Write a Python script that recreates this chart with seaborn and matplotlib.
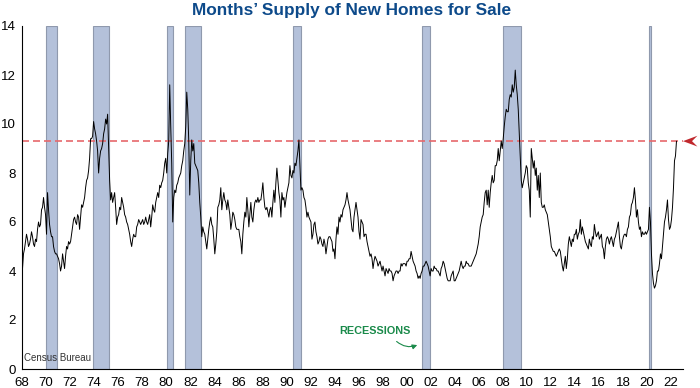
import numpy as np
import pandas as pd
import seaborn as sns
import matplotlib.pyplot as plt
from matplotlib.patches import Polygon

# Monthly months' supply of new homes, Jan 1968 onwards
first_year = 1968
supply_1968_1979 = [
    4.1, 4.7, 4.9, 5.2, 5.5, 5.3, 5.0, 5.1, 5.3, 5.6, 5.4, 5.1,
    5.0, 5.3, 5.2, 5.7, 6.0, 5.8, 5.9, 6.5, 6.6, 7.0, 6.6, 6.3,
    5.5, 7.2, 6.5, 5.9, 5.6, 5.4, 5.4, 5.0, 4.8, 4.7, 4.7, 4.6,
    4.5, 4.3, 4.0, 4.2, 4.7, 4.4, 4.1, 4.6, 5.0, 4.9, 5.2, 5.1,
    5.2, 5.5, 5.8, 6.1, 6.2, 6.0, 5.9, 6.3, 6.2, 5.7, 6.2, 6.7,
    6.6, 6.8, 7.0, 7.4, 7.7, 7.8, 8.1, 8.6, 9.4, 9.4, 9.5, 10.1,
    9.8, 9.6, 9.3, 8.9, 8.0, 8.6, 8.9, 9.0, 9.2, 9.6, 9.8, 10.2,
    10.0, 10.4, 9.0, 7.7, 6.9, 7.2, 6.8, 7.0, 7.2, 6.6, 5.9, 6.2,
    6.3, 6.6, 6.5, 7.0, 6.8, 6.6, 6.3, 6.2, 6.0, 5.9, 5.7, 5.5,
    5.2, 5.0, 5.3, 5.5, 5.4, 5.4, 5.8, 5.9, 6.1, 6.0, 5.9, 6.0,
    6.1, 5.9, 6.0, 6.2, 6.0, 5.9, 6.1, 6.3, 5.8, 6.2, 6.7, 6.5,
    6.4, 6.8, 7.0, 7.2, 7.0, 7.5, 7.4, 7.6, 7.7, 8.0, 8.4, 8.6,
]
supply_1980_1989 = [
    8.0, 8.8, 9.3, 11.6, 9.9, 8.4, 6.0, 7.0, 7.3, 7.2, 7.5, 7.6,
    7.8, 7.9, 8.0, 8.3, 8.5, 8.9, 9.2, 9.9, 11.3, 10.6, 9.3, 7.1,
    8.5, 9.35, 8.9, 9.2, 8.4, 8.3, 8.2, 8.1, 7.6, 6.8, 6.2, 5.4,
    5.8, 5.6, 5.5, 5.2, 4.9, 5.3, 5.7, 6.0, 6.2, 5.9, 5.8, 5.3,
    4.7, 5.1, 5.6, 6.6, 6.7, 6.9, 7.4, 6.5, 6.9, 7.2, 6.9, 6.8,
    6.5, 6.9, 6.6, 6.3, 5.7, 6.0, 6.4, 6.3, 6.1, 5.8, 5.7, 5.7,
    5.7, 5.4, 5.2, 4.7, 5.5, 6.0, 6.4, 6.2, 7.0, 6.5, 5.8, 6.3,
    6.8, 6.2, 6.0, 6.5, 6.8, 6.9, 6.8, 7.0, 6.8, 6.9, 6.9, 7.2,
    7.6, 7.0, 6.6, 6.5, 6.6, 6.4, 6.2, 6.5, 6.6, 6.2, 6.8, 7.3,
    6.8, 7.6, 8.2, 7.7, 7.2, 6.9, 6.2, 7.2, 6.9, 7.0, 6.6, 6.9,
]
supply_1990_1999 = [
    7.2, 7.4, 7.6, 8.3, 7.9, 7.8, 8.1, 8.0, 8.4, 8.3, 8.6, 8.9,
    9.35, 8.3, 7.3, 7.4, 7.3, 7.0, 6.9, 6.6, 6.2, 6.4, 6.2, 6.1,
    6.0, 5.3, 5.5, 5.9, 6.0, 5.6, 5.4, 5.1, 5.2, 5.4, 5.3, 5.1,
    5.0, 5.3, 5.1, 4.7, 5.0, 5.3, 5.4, 5.4, 5.3, 5.2, 4.8, 4.9,
    4.5, 5.3, 5.8, 5.5, 6.2, 6.0, 6.3, 6.2, 6.5, 6.6, 6.7, 6.9,
    7.2, 6.9, 6.7, 6.5, 6.1, 5.7, 5.6, 6.2, 6.5, 6.8, 6.5, 6.2,
    5.6, 5.3, 6.1, 6.0, 5.9, 5.4, 5.5, 5.5, 5.2, 5.0, 4.8, 4.6,
    4.7, 4.5, 4.1, 4.4, 4.6, 4.5, 4.4, 4.2, 4.3, 4.4, 4.2, 4.0,
    4.2, 4.0, 3.8, 4.1, 4.0, 3.9, 4.1, 4.0, 4.0, 3.9, 3.6, 3.8,
    3.9, 4.0, 4.0, 3.9, 4.0, 4.0, 4.3, 4.2, 4.3, 4.3, 4.3, 4.2,
]
supply_2000_2009 = [
    4.4, 4.4, 4.5, 4.5, 4.8, 4.6, 4.4, 4.3, 4.2, 4.0, 3.9, 3.7,
    3.8, 3.7, 3.9, 4.0, 4.2, 4.2, 4.3, 4.4, 4.3, 4.2, 4.0, 3.8,
    4.1, 4.0, 4.0, 4.2, 4.1, 4.1, 4.0, 4.0, 3.9, 3.8, 4.1, 4.2,
    4.4, 4.3, 4.1, 3.9, 3.7, 3.6, 3.6, 3.6, 3.8, 3.9, 4.0, 3.6,
    3.6, 3.7, 3.8, 3.9, 4.0, 4.2, 4.4, 4.2, 4.1, 4.2, 4.2, 4.4,
    4.3, 4.3, 4.2, 4.2, 4.2, 4.3, 4.4, 4.5, 4.6, 4.7, 4.9, 5.1,
    5.4, 5.8, 6.0, 6.2, 6.3, 6.8, 7.2, 7.3, 6.7, 7.3, 6.6, 7.2,
    7.6, 7.9, 7.6, 7.7, 8.3, 8.3, 8.5, 9.0, 8.5, 8.9, 9.3, 9.0,
    9.4, 9.9, 10.3, 10.6, 10.5, 10.5, 11.0, 11.2, 11.1, 11.6, 11.3, 11.5,
    12.2, 11.6, 11.2, 10.6, 9.6, 8.5, 7.7, 7.4, 7.6, 7.8, 8.0, 8.3,
]
supply_2010_2022 = [
    8.2, 7.6, 7.3, 6.2, 9.0, 8.6, 8.2, 8.5, 7.9, 8.2, 7.3, 7.9,
    7.0, 8.0, 6.8, 6.6, 6.6, 6.7, 6.5, 6.4, 6.3, 6.0, 5.7, 5.4,
    5.0, 4.9, 4.8, 4.8, 4.7, 4.6, 4.7, 4.8, 4.9, 4.8, 4.5, 4.2,
    4.0, 4.3, 4.6, 4.1, 4.5, 5.1, 5.4, 5.2, 5.0, 5.3, 5.2, 5.5,
    5.5, 5.7, 5.3, 5.5, 5.6, 6.1, 5.5, 5.8, 5.6, 5.4, 5.2, 5.1,
    5.0, 4.9, 5.3, 5.1, 5.0, 5.4, 5.3, 5.9, 5.6, 5.4, 5.5, 5.6,
    5.3, 5.4, 5.5, 5.0, 4.9, 4.5, 5.0, 5.3, 5.4, 5.3, 5.1, 5.3,
    5.4, 5.2, 5.0, 5.3, 5.4, 5.6, 5.8, 6.0, 5.4, 5.0, 4.9, 5.2,
    5.4, 5.5, 5.5, 5.4, 5.7, 5.8, 6.2, 6.3, 6.7, 6.8, 7.0, 7.4,
    6.9, 6.2, 6.5, 6.0, 5.7, 5.8, 5.4, 5.6, 5.5, 5.5, 5.6, 5.5,
    5.6, 5.7, 6.6, 6.0, 4.7, 3.9, 3.5, 3.3, 3.4, 3.6, 4.0, 4.0,
    4.3, 4.7, 4.5, 5.0, 5.5, 6.0, 6.2, 6.5, 6.9, 6.1, 5.7, 5.8,
    6.1, 6.6, 7.4, 8.5, 8.7, 9.3,
]

# NBER recessions (peak / trough month)
rec_start_year = [1969, 1973, 1980, 1981, 1990, 2001, 2007, 2020]
rec_start_month = [12, 11, 1, 7, 7, 3, 12, 2]
rec_end_year = [1970, 1975, 1980, 1982, 1991, 2001, 2009, 2020]
rec_end_month = [11, 3, 7, 11, 3, 11, 6, 4]

tick_years = list(range(1968, 2023, 2))
tick_labels = [f"{y % 100:02d}" for y in tick_years]

supply = supply_1968_1979 + supply_1980_1989 + supply_1990_1999 + supply_2000_2009 + supply_2010_2022
df = pd.DataFrame({
    'date': first_year + (np.arange(len(supply)) + 0.5) / 12,
    'supply': supply,
})
latest = supply[-1]

sns.set_theme(style='white')
plt.rcParams['font.family'] = ['Liberation Sans', 'DejaVu Sans']

fig = plt.figure(figsize=(7, 3.88), dpi=100)
ax = fig.add_axes([22 / 700, 19 / 388, 661 / 700, 343 / 388])

# recession shading
for sy, sm, ey, em in zip(rec_start_year, rec_start_month, rec_end_year, rec_end_month):
    ax.axvspan(sy + sm / 12, ey + em / 12, facecolor='#b4c1da', edgecolor='#8f99ad',
               lw=0.8, zorder=1)

ax.axhline(latest, color='#e6686c', ls=(0, (4.2, 2.4)), lw=1.2, zorder=2)

sns.lineplot(data=df, x='date', y='supply', color='black', lw=0.7, ax=ax, zorder=3)

ax.set_xlim(1968, 2023)
ax.set_ylim(0, 14)
ax.set_xlabel('')
ax.set_ylabel('')
ax.set_xticks(tick_years)
ax.set_xticklabels(tick_labels)
ax.set_xticks(range(1969, 2023, 2), minor=True)
ax.set_yticks(range(0, 15, 2))
ax.tick_params(axis='both', which='both', direction='inout', length=6, width=0.8,
               colors='black', labelsize=9.5)
ax.tick_params(axis='y', pad=1.5)
ax.tick_params(axis='x', pad=2.5)
sns.despine(ax=ax)
for side in ['left', 'bottom']:
    ax.spines[side].set_color('black')
    ax.spines[side].set_linewidth(0.8)

# red marker at the right end of the dashed line
arrow = Polygon([(2023.0, latest), (2024.2, latest + 0.22), (2023.75, latest),
                 (2024.2, latest - 0.22)], closed=True, facecolor='#c0282d',
                edgecolor='none', clip_on=False, zorder=4)
ax.add_patch(arrow)

ax.text(1997.4, 1.55, 'RECESSIONS', color='#1a8a4a', fontsize=7.8, fontweight='bold',
        ha='center', va='center')
ax.annotate('', xy=(2001.1, 1.02), xytext=(1999.0, 1.2),
            arrowprops=dict(arrowstyle='-|>', color='#1a8a4a', lw=0.8,
                            connectionstyle='arc3,rad=0.35', mutation_scale=7))
ax.text(1968.2, 0.45, 'Census Bureau', fontsize=7, color='#333333', ha='left', va='center')

fig.text(0.502, 1 - 11 / 388, 'Months\u2019 Supply of New Homes for Sale', ha='center',
         va='center', fontsize=12.4, fontweight='bold', color='#0d4a8a')

fig.savefig('out.png', dpi=100)
